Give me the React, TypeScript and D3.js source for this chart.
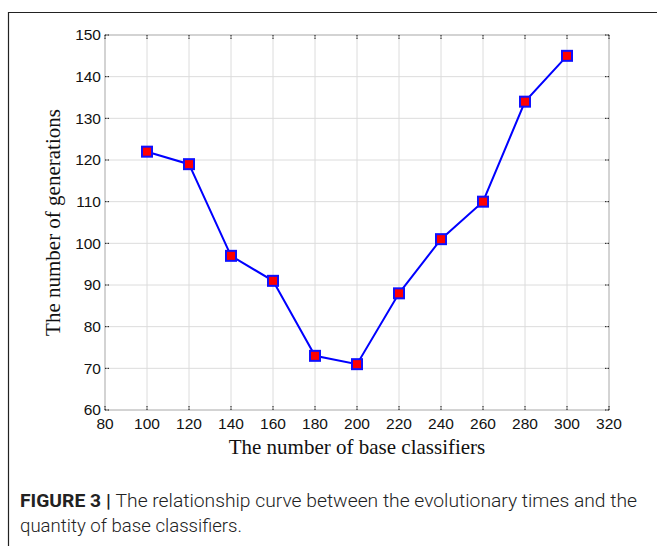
import React, { useEffect, useRef } from 'react';
import * as d3 from 'd3';

const baseClassifiers = [100, 120, 140, 160, 180, 200, 220, 240, 260, 280, 300];
const generations = [122, 119, 97, 91, 73, 71, 88, 101, 110, 134, 145];
const xTicks = [80, 100, 120, 140, 160, 180, 200, 220, 240, 260, 280, 300, 320];
const yTicks = [60, 70, 80, 90, 100, 110, 120, 130, 140, 150];

const W = 657;
const H = 546;

const App: React.FC = () => {
  const svgRef = useRef<SVGSVGElement>(null);

  useEffect(() => {
    document.body.style.margin = '0';
    if (!svgRef.current) return;
    const svg = d3.select(svgRef.current);
    svg.selectAll('*').remove();

    const left = 105, right = 609, top = 35, bottom = 410;
    const x = d3.scaleLinear().domain([80, 320]).range([left, right]);
    const y = d3.scaleLinear().domain([60, 150]).range([bottom, top]);

    // outer frame (left and top only)
    svg.append('path')
      .attr('d', `M8.5,${H} L8.5,12.5 L${W},12.5`)
      .attr('fill', 'none')
      .attr('stroke', '#222')
      .attr('stroke-width', 1.2);

    // grid
    const grid = svg.append('g');
    grid.selectAll('.gx')
      .data(xTicks.slice(1, -1))
      .enter().append('line')
      .attr('x1', d => x(d)).attr('x2', d => x(d))
      .attr('y1', top).attr('y2', bottom)
      .attr('stroke', '#dcdcdc').attr('stroke-width', 1);
    grid.selectAll('.gy')
      .data(yTicks.slice(1, -1))
      .enter().append('line')
      .attr('y1', d => y(d)).attr('y2', d => y(d))
      .attr('x1', left).attr('x2', right)
      .attr('stroke', '#dcdcdc').attr('stroke-width', 1);

    // axes box
    svg.append('rect')
      .attr('x', left).attr('y', top)
      .attr('width', right - left).attr('height', bottom - top)
      .attr('fill', 'none')
      .attr('stroke', '#a8a8a8')
      .attr('stroke-width', 1);

    // inner ticks on all sides
    const ticks = svg.append('g').attr('stroke', '#111').attr('stroke-width', 1).attr('stroke-dasharray', '1.5,1');
    xTicks.forEach(t => {
      ticks.append('line').attr('x1', x(t)).attr('x2', x(t)).attr('y1', bottom).attr('y2', bottom - 4);
      ticks.append('line').attr('x1', x(t)).attr('x2', x(t)).attr('y1', top).attr('y2', top + 4);
    });
    yTicks.forEach(t => {
      ticks.append('line').attr('y1', y(t)).attr('y2', y(t)).attr('x1', left).attr('x2', left + 4);
      ticks.append('line').attr('y1', y(t)).attr('y2', y(t)).attr('x1', right).attr('x2', right - 4);
    });

    // tick labels
    svg.append('g').selectAll('text')
      .data(xTicks)
      .enter().append('text')
      .attr('x', d => x(d))
      .attr('y', bottom + 19)
      .attr('text-anchor', 'middle')
      .style('font-family', 'Liberation Sans, Arial, sans-serif')
      .style('font-size', '15.5px')
      .style('fill', '#111')
      .text(d => d);

    svg.append('g').selectAll('text')
      .data(yTicks)
      .enter().append('text')
      .attr('x', left - 4)
      .attr('y', d => y(d))
      .attr('dy', '0.35em')
      .attr('text-anchor', 'end')
      .style('font-family', 'Liberation Sans, Arial, sans-serif')
      .style('font-size', '15.5px')
      .style('fill', '#111')
      .text(d => d);

    // axis titles
    svg.append('text')
      .attr('x', (left + right) / 2)
      .attr('y', 454)
      .attr('text-anchor', 'middle')
      .style('font-family', 'Liberation Serif, Times New Roman, serif')
      .style('font-size', '21px')
      .style('fill', '#111')
      .text('The number of base classifiers');

    svg.append('text')
      .attr('transform', `translate(60, ${(top + bottom) / 2}) rotate(-90)`)
      .attr('text-anchor', 'middle')
      .style('font-family', 'Liberation Serif, Times New Roman, serif')
      .style('font-size', '21px')
      .style('fill', '#111')
      .text('The number of generations');

    // line
    const pts = baseClassifiers.map((b, i) => [b, generations[i]] as [number, number]);
    const line = d3.line<[number, number]>()
      .x(d => x(d[0]))
      .y(d => y(d[1]));
    svg.append('path')
      .datum(pts)
      .attr('d', line)
      .attr('fill', 'none')
      .attr('stroke', '#0000ff')
      .attr('stroke-width', 2);

    // markers
    const s = 10;
    svg.append('g').selectAll('rect')
      .data(pts)
      .enter().append('rect')
      .attr('x', d => x(d[0]) - s / 2)
      .attr('y', d => y(d[1]) - s / 2)
      .attr('width', s)
      .attr('height', s)
      .attr('fill', '#ff0000')
      .attr('stroke', '#1010ff')
      .attr('stroke-width', 2);

    // caption
    const cap = svg.append('text')
      .attr('x', 20)
      .attr('y', 507)
      .attr('textLength', 617)
      .attr('lengthAdjust', 'spacingAndGlyphs')
      .style('font-family', 'Roboto, Liberation Sans, Arial, sans-serif')
      .style('font-size', '19px')
      .style('font-weight', 300)
      .style('fill', '#222');
    cap.append('tspan').style('font-weight', 'bold').text('FIGURE 3 | ');
    cap.append('tspan').text('The relationship curve between the evolutionary times and the');

    svg.append('text')
      .attr('x', 20)
      .attr('y', 532)
      .attr('textLength', 222)
      .attr('lengthAdjust', 'spacingAndGlyphs')
      .style('font-family', 'Roboto, Liberation Sans, Arial, sans-serif')
      .style('font-size', '19px')
      .style('font-weight', 300)
      .style('fill', '#222')
      .text('quantity of base classifiers.');
  }, []);

  return <svg ref={svgRef} width={W} height={H} style={{ display: 'block', background: '#fff' }} />;
};

export default App;
